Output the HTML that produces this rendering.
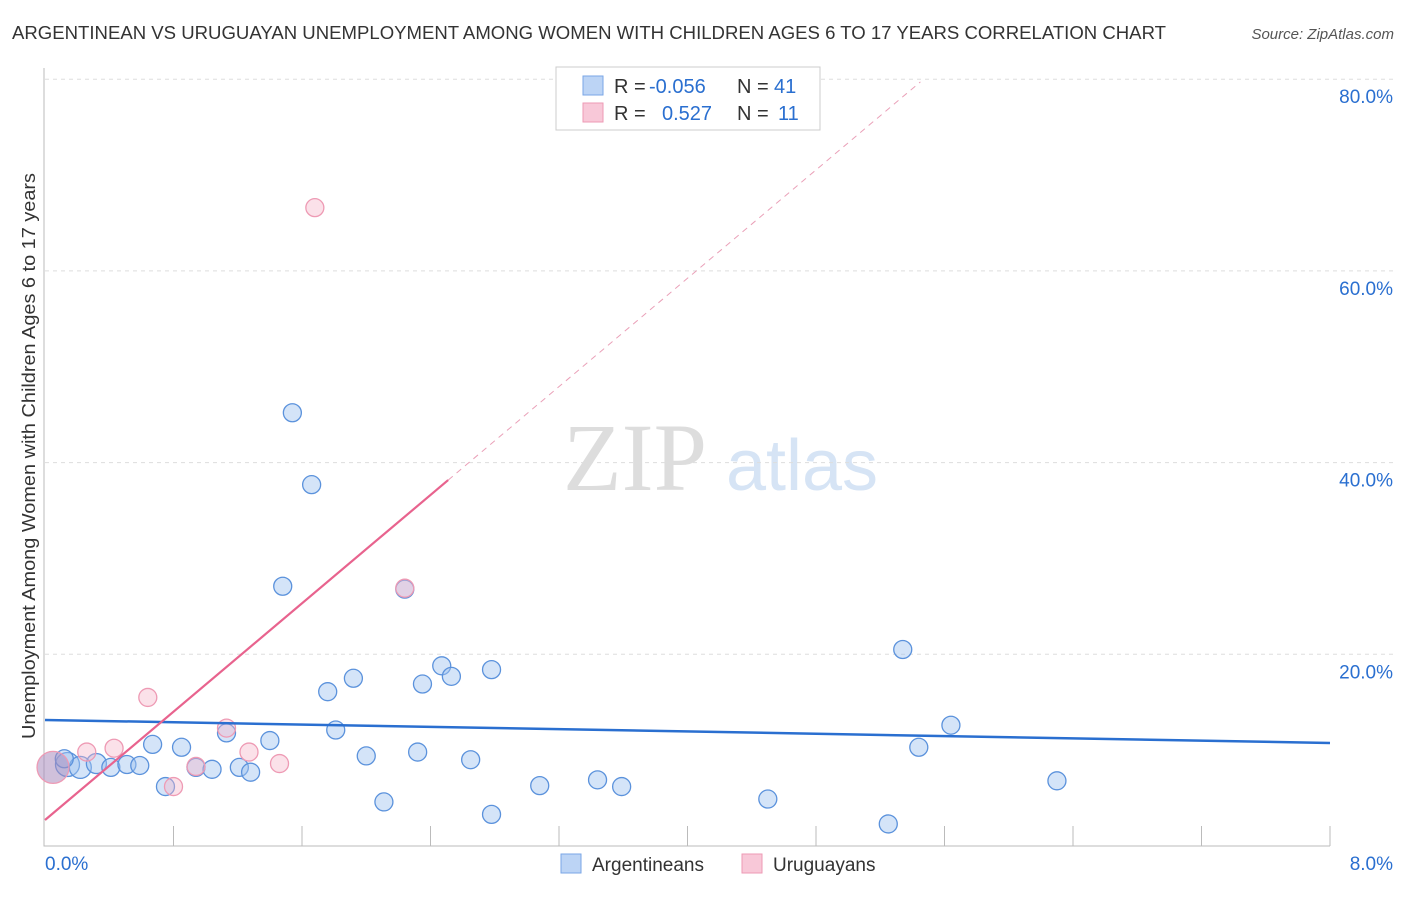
<!DOCTYPE html>
<html><head><meta charset="utf-8"><style>
body{margin:0;background:#fff;font-family:"Liberation Sans",sans-serif;}
</style></head><body>
<svg width="1406" height="892" id="c" font-family="Liberation Sans, sans-serif">
<text x="12" y="39" font-size="18" fill="#333" textLength="1154" lengthAdjust="spacingAndGlyphs">ARGENTINEAN VS URUGUAYAN UNEMPLOYMENT AMONG WOMEN WITH CHILDREN AGES 6 TO 17 YEARS CORRELATION CHART</text>
<text x="1394" y="39" font-size="15" fill="#555" text-anchor="end" font-style="italic">Source: ZipAtlas.com</text>
<text x="35" y="456" font-size="18" fill="#333" text-anchor="middle" textLength="566" lengthAdjust="spacingAndGlyphs" transform="rotate(-90 35 456)">Unemployment Among Women with Children Ages 6 to 17 years</text>
<g><text x="635" y="490" font-size="96" fill="#ddd" style="font-family:'Liberation Serif',serif" text-anchor="middle">ZIP</text><text x="802" y="490" font-size="72" fill="#d6e4f5" text-anchor="middle">atlas</text></g>
<g id="grid"></g><g id="axes"></g><g id="marks"></g>
<g font-size="20">
<rect x="556" y="67" width="264" height="63" fill="#fff" stroke="#ccc"/>
<rect x="583" y="76" width="20" height="19" fill="#bcd4f5" stroke="#7aa6e6"/>
<rect x="583" y="103" width="20" height="19" fill="#f8c8d8" stroke="#ee9ab4"/>
<text x="614" y="93" fill="#333">R =</text><text x="649" y="93" fill="#2a6fd0">-0.056</text>
<text x="737" y="93" fill="#333">N =</text><text x="774" y="93" fill="#2a6fd0">41</text>
<text x="614" y="120" fill="#333">R =</text><text x="662" y="120" fill="#2a6fd0">0.527</text>
<text x="737" y="120" fill="#333">N =</text><text x="778" y="120" fill="#2a6fd0">11</text>
</g>
<g>
<rect x="561" y="854" width="20" height="19" fill="#bcd4f5" stroke="#7aa6e6"/>
<text x="592" y="871" font-size="19" fill="#333">Argentineans</text>
<rect x="742" y="854" width="20" height="19" fill="#f8c8d8" stroke="#ee9ab4"/>
<text x="773" y="871" font-size="19" fill="#333">Uruguayans</text>
</g>
</svg>
<script>
const xTicks=[0,8];
const yTicks=[20,40,60,80];
const blueX=[0.14,0.22,0.32,0.41,0.51,0.59,0.67,0.75,0.85,0.94,1.04,1.13,1.21,1.28,1.40,1.48,1.54,1.66,1.76,1.81,1.92,2.00,2.11,2.24,2.32,2.35,2.47,2.53,2.65,2.78,2.78,3.08,3.44,3.59,4.50,5.25,5.34,5.44,5.64,6.30,0.12];
const blueY=[8.5,8.2,8.6,8.2,8.5,8.4,10.6,6.2,10.3,8.2,8.0,11.8,8.2,7.7,11.0,27.1,45.2,37.7,16.1,12.1,17.5,9.4,4.6,26.8,9.8,16.9,18.8,17.7,9.0,3.3,18.4,6.3,6.9,6.2,4.9,2.3,20.5,10.3,12.6,6.8,9.1];
const blueR=[12,11,10,9,9,9,9,9,9,9,9,9,9,9,9,9,9,9,9,9,9,9,9,9,9,9,9,9,9,9,9,9,9,9,9,9,9,9,9,9,9];
const pinkX=[0.05,0.26,0.43,0.64,0.80,0.94,1.13,1.27,1.46,1.68,2.24];
const pinkY=[8.2,9.8,10.2,15.5,6.2,8.3,12.3,9.8,8.6,66.6,26.9];
const pinkR=[16,9,9,9,9,9,9,9,9,9,9];
const blueTrend=[13.15,10.75];
const pinkIntercept=2.71, pinkSlope=14.13, pinkSolidEnd=2.51, pinkDashEnd=5.45;
const X=v=>45+v/8*1285, Y=v=>846-v/20*191.7;
const NS='http://www.w3.org/2000/svg';
function mk(t,a,p){const e=document.createElementNS(NS,t);for(const k in a)e.setAttribute(k,a[k]);document.getElementById(p).appendChild(e);return e;}
yTicks.forEach(t=>{const l=mk('line',{x1:45,x2:1394,y1:Y(t),y2:Y(t),stroke:'#ddd','stroke-dasharray':'4,4'},'grid');


const tx=mk('text',{x:1393,y:Y(t)+24,'font-size':19,fill:'#2a6fd0','text-anchor':'end'},'axes');tx.textContent=t.toFixed(1)+'%';

});
const ax=mk('path',{d:'M44 68V846H1330',stroke:'#bbb',fill:'none'},'axes');


for(let i=1;i<=10;i++){const t=mk('line',{x1:X(i*0.8),x2:X(i*0.8),y1:826,y2:846,stroke:'#bbb'},'axes');

}
xTicks.forEach((t,i)=>{const tx=mk('text',{x:i?1393:45,y:870,'font-size':19,fill:'#2a6fd0','text-anchor':i?'end':'start'},'axes');tx.textContent=t.toFixed(1)+'%';

});
blueX.forEach((v,i)=>{const c=mk('circle',{cx:X(v),cy:Y(blueY[i]),r:blueR[i],fill:'rgba(160,195,240,0.45)',stroke:'#5b92dc','stroke-width':1.3},'marks');

});
pinkX.forEach((v,i)=>{const c=mk('circle',{cx:X(v),cy:Y(pinkY[i]),r:pinkR[i],fill:pinkR[i]>10?'rgba(170,140,190,0.55)':'rgba(245,180,200,0.4)',stroke:'#ee9ab4','stroke-width':1.3},'marks');

});
const bl=mk('line',{x1:X(0),y1:Y(blueTrend[0]),x2:X(8),y2:Y(blueTrend[1]),stroke:'#2a6fd0','stroke-width':2.5},'marks');


const ps=mk('line',{x1:X(0),y1:Y(pinkIntercept),x2:X(pinkSolidEnd),y2:Y(pinkIntercept+pinkSlope*pinkSolidEnd),stroke:'#e8638e','stroke-width':2.2},'marks');


const pd=mk('line',{x1:X(pinkSolidEnd),y1:Y(pinkIntercept+pinkSlope*pinkSolidEnd),x2:X(pinkDashEnd),y2:Y(pinkIntercept+pinkSlope*pinkDashEnd),stroke:'#eaa0b8','stroke-width':1,'stroke-dasharray':'6,5'},'marks');


</script>
</body></html>
